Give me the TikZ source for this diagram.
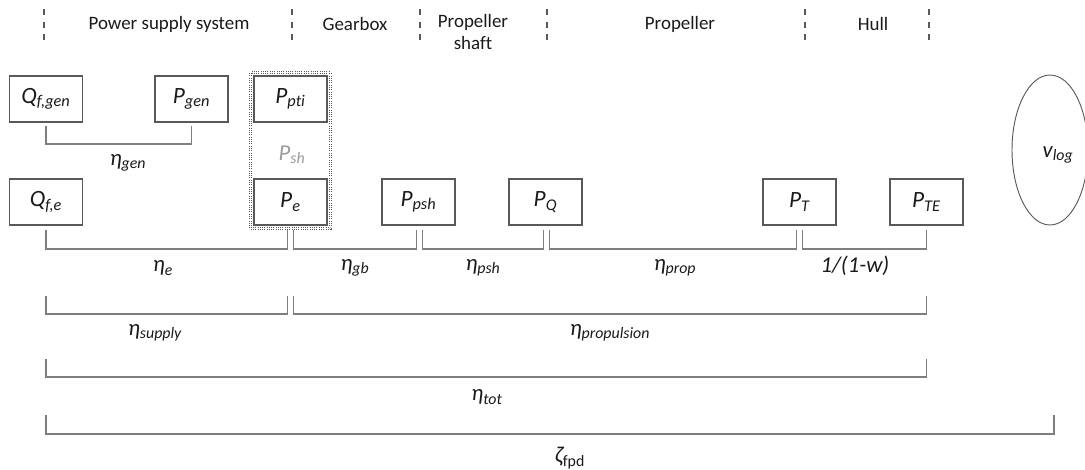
\documentclass[tikz,border=0pt]{standalone}
\usepackage{fontspec}
\setmainfont{Carlito}[Ligatures=NoCommon]
\usetikzlibrary{calc,fit,shapes.geometric}
\definecolor{boxc}{HTML}{595959}
\definecolor{linec}{HTML}{7F7F7F}
\definecolor{txtc}{HTML}{1A1A1A}
\definecolor{graytxt}{HTML}{9A9A9A}
\tikzset{
  var/.style={draw=boxc, line width=0.9pt, minimum width=54.75pt, minimum height=34.5pt, inner sep=0pt,
    font=\fontsize{17.5}{19}\selectfont\itshape, text=txtc},
  br/.style={draw=linec, line width=0.8pt},
  lab/.style={font=\fontsize{17}{19}\selectfont\itshape, text=txtc, inner sep=0pt},
  head/.style={font=\fontsize{14.2}{16.5}\selectfont, text=txtc, align=center, inner sep=0pt},
  sep/.style={draw=boxc, line width=0.8pt, dash pattern=on 4.5pt off 5pt}
}
\begin{document}
\begin{tikzpicture}[x=0.75pt,y=-0.75pt]
\useasboundingbox (0,0) rectangle (1085,470);

% header
\foreach \xx in {44,292,420,547,805,929} \draw[sep] (\xx,9) -- (\xx,47);
\node[head] (h1) at (169,24) {Power supply system};
\node[head] (h2) at (355,24) {Gearbox};
\node[head] (h3) at (473,32) {Propeller\\shaft};
\node[head] (h4) at (680,24) {Propeller};
\node[head] (h5) at (873,24) {Hull};

% boxes
\node[var] (qfgen) at (46,99) {Q\textsubscript{f,gen}};
\node[var] (pgen) at (191.5,99) {P\textsubscript{gen}};
\node[var] (ppti) at (290.5,99) {P\textsubscript{pti}};
\node[var] (qfe) at (46,202) {Q\textsubscript{f,e}};
\node[var] (pe) at (290.5,202) {P\textsubscript{e}};
\node[var] (ppsh) at (418.5,202) {P\textsubscript{psh}};
\node[var] (pq) at (545.5,202) {P\textsubscript{Q}};
\node[var] (pt) at (799.5,202) {P\textsubscript{T}};
\node[var] (pte) at (926.5,202) {P\textsubscript{TE}};
\node[draw=boxc, line width=0.7pt, densely dotted, double distance=0.9pt, fit=(ppti)(pe), inner sep=2pt] (grp) {};
\node[lab, text=graytxt] (psh) at (292,155) {P\textsubscript{sh}};
\node[draw=boxc, line width=0.7pt, ellipse, minimum width=57pt, minimum height=112.5pt, inner sep=0pt] (vlog) at (1050,150) {};
\node[lab] (vlogt) at (1058,155) {v\textsubscript{log}};

% split coordinates
\coordinate (peL) at ($(pe.south)+(-3,0)$);
\coordinate (peR) at ($(pe.south)+(3,0)$);
\coordinate (ppshL) at ($(ppsh.south)+(-2,0)$);
\coordinate (ppshR) at ($(ppsh.south)+(4,0)$);
\coordinate (pqL) at ($(pq.south)+(-2,0)$);
\coordinate (pqR) at ($(pq.south)+(4,0)$);
\coordinate (ptL) at ($(pt.south)+(-3,0)$);
\coordinate (ptR) at ($(pt.south)+(3,0)$);
\coordinate (zend) at ($(vlog.center)+(4,0)$);
\coordinate (r0) at (0,126);
\coordinate (r1) at (0,230);
\coordinate (r2) at (0,296);
\coordinate (r3) at (0,359);
\coordinate (r4) at (0,415);

% brackets
\draw[br] (qfgen |- r0) -- ++(0,18) -| (pgen |- r0);
\draw[br] (qfe |- r1) -- ++(0,19) -| (peL |- r1);
\draw[br] (peR |- r1) -- ++(0,19) -| (ppshL |- r1);
\draw[br] (ppshR |- r1) -- ++(0,19) -| (pqL |- r1);
\draw[br] (pqR |- r1) -- ++(0,19) -| (ptL |- r1);
\draw[br] (ptR |- r1) -- ++(0,19) -| (pte |- r1);
\draw[br] (qfe |- r2) -- ++(0,18) -| (peL |- r2);
\draw[br] (peR |- r2) -- ++(0,18) -| (pte |- r2);
\draw[br] (qfe |- r3) -- ++(0,18) -| (pte |- r3);
\draw[br] (qfe |- r4) -- ++(0,19) -| (zend |- r4);

% labels
\node[lab] (lgen) at (128,163) {η\textsubscript{gen}};
\node[lab] (le) at (163,268) {η\textsubscript{e}};
\node[lab] (lgb) at (355,268) {η\textsubscript{gb}};
\node[lab] (lpsh) at (483,268) {η\textsubscript{psh}};
\node[lab] (lprop) at (675,268) {η\textsubscript{prop}};
\node[lab] (lw) at (855,266) {1/(1-w)};
\node[lab] (lsup) at (155,333) {η\textsubscript{supply}};
\node[lab] (lpro) at (610,333) {η\textsubscript{propulsion}};
\node[lab] (ltot) at (487,397) {η\textsubscript{tot}};
\node[lab] (lz) at (570,458) {ζ\textsubscript{\upshape fpd}};
\end{tikzpicture}
\end{document}
